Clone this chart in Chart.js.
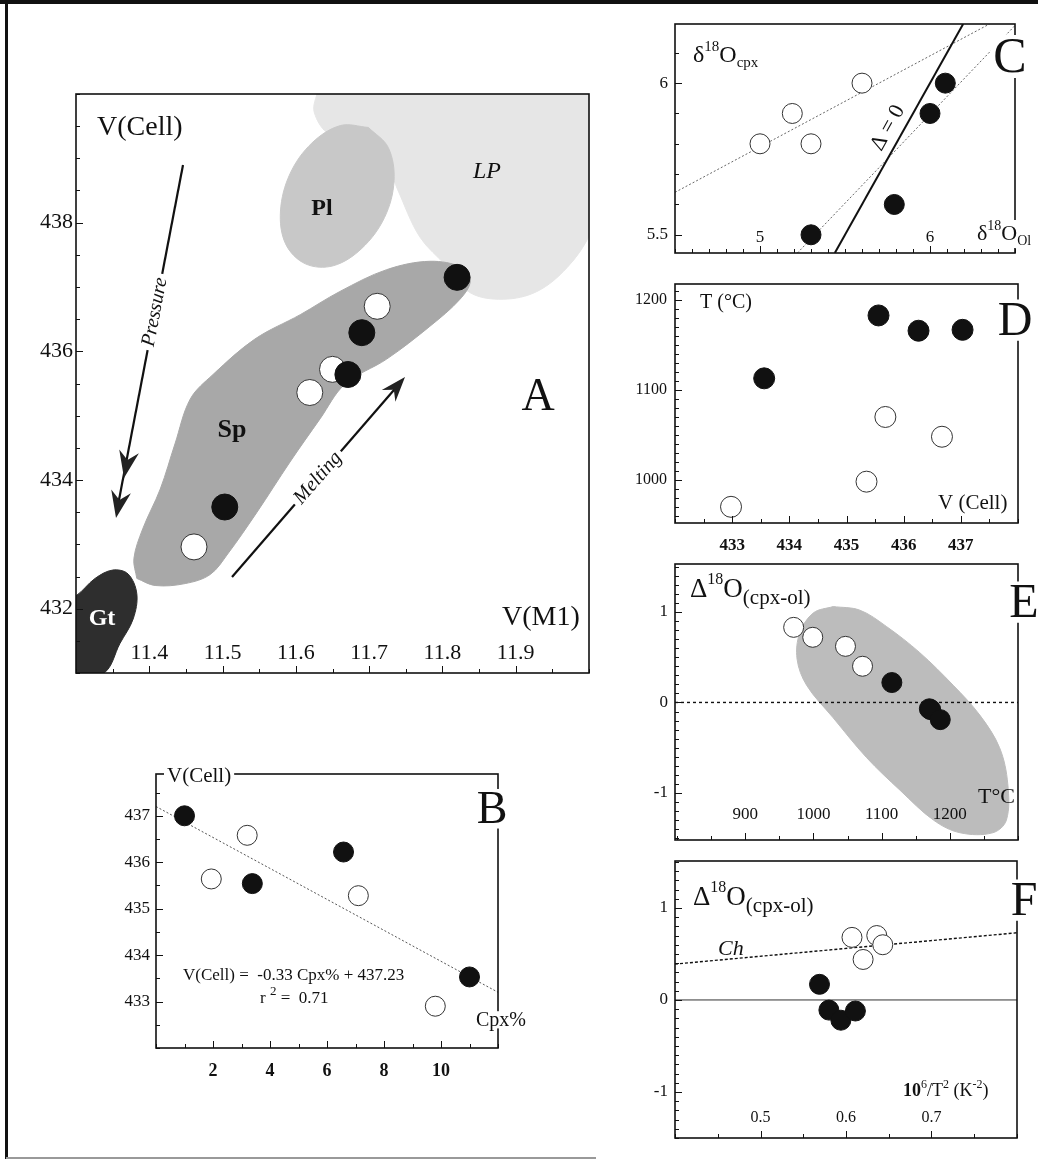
<!DOCTYPE html>
<html>
<head>
<meta charset="utf-8">
<script src="https://cdn.jsdelivr.net/npm/chart.js@4.4.1/dist/chart.umd.min.js"></script>
<style>
  html, body { margin: 0; padding: 0; background: #fff; }
  #page { position: relative; width: 1038px; height: 1161px; overflow: hidden; background: #fff; }
  #page canvas { position: absolute; }
  .rule { position: absolute; background: #111; }
</style>
</head>
<body>
<div id="page">
  <div class="rule" style="left:0;top:0;width:1038px;height:4px"></div>
  <div class="rule" style="left:5px;top:0;width:3px;height:1159px"></div>
  <div class="rule" style="left:6px;top:1157px;width:590px;height:2px;background:#999"></div>
  <canvas id="cA"></canvas>
  <canvas id="cB"></canvas>
  <canvas id="cC"></canvas>
  <canvas id="cD"></canvas>
  <canvas id="cE"></canvas>
  <canvas id="cF"></canvas>
</div>
<script>
const SERIF = '"Liberation Serif", "DejaVu Serif", serif';

// ---- A: V(Cell) against V(M1)
const aOpenM1 = [11.461, 11.619, 11.650, 11.711];
const aOpenCell = [432.96, 435.36, 435.72, 436.70];
const aFillM1 = [11.503, 11.671, 11.690, 11.820];
const aFillCell = [433.58, 435.64, 436.29, 437.15];
const aXLabels = [11.4, 11.5, 11.6, 11.7, 11.8, 11.9];
const aYLabels = [432, 434, 436, 438];
// fields in A (outlines)
const lpM1 = [11.630, 11.625, 11.647, 11.715, 11.739, 11.769, 11.806, 11.838, 11.883, 11.929, 11.970, 12.001, 12.015, 12.015];
const lpCell = [440.06, 439.72, 439.36, 439.13, 438.51, 437.78, 437.32, 436.91, 436.81, 436.93, 437.30, 437.81, 438.36, 440.06];
const plM1 = [11.699, 11.726, 11.734, 11.721, 11.690, 11.651, 11.613, 11.586, 11.579, 11.592, 11.622, 11.661];
const plCell = [439.48, 439.17, 438.65, 438.08, 437.60, 437.33, 437.36, 437.67, 438.18, 438.76, 439.24, 439.51];
const spM1 = [11.383, 11.408, 11.449, 11.483, 11.507, 11.547, 11.592, 11.633, 11.667, 11.724, 11.783, 11.824, 11.838,
              11.827, 11.783, 11.724, 11.660, 11.606, 11.544, 11.487, 11.456, 11.435, 11.415, 11.391, 11.379];
const spCell = [432.47, 432.36, 432.39, 432.53, 432.85, 433.50, 434.28, 434.95, 435.49, 435.88, 436.39, 436.81, 437.09,
                437.30, 437.40, 437.27, 436.93, 436.57, 436.19, 435.64, 435.26, 434.56, 433.86, 433.24, 432.78];
const gtM1 = [11.29, 11.300, 11.326, 11.350, 11.371, 11.383, 11.378, 11.360, 11.338, 11.29];
const gtCell = [432.20, 432.20, 432.47, 432.60, 432.54, 432.23, 431.84, 431.46, 431.00, 430.95];

// ---- B: V(Cell) against Cpx%
const bFillCpx = [1.0, 3.38, 6.58, 11.0];
const bFillCell = [437.0, 435.54, 436.22, 433.53];
const bOpenCpx = [1.94, 3.2, 7.1, 9.8];
const bOpenCell = [435.64, 436.58, 435.28, 432.9];
const bFitCpx = [0, 12];
const bFitCell = [437.2, 433.2];
const bXLabels = [2, 4, 6, 8, 10];
const bYLabels = [433, 434, 435, 436, 437];

// ---- C: d18O cpx against d18O ol
const cOpenOl = [5.0, 5.19, 5.3, 5.6];
const cOpenCpx = [5.8, 5.9, 5.8, 6.0];
const cFillOl = [5.3, 5.79, 6.0, 6.09];
const cFillCpx = [5.5, 5.6, 5.9, 6.0];
const cOpenFitOl = [4.5, 6.35];
const cOpenFitCpx = [5.64, 6.195];
const cFillFitOl = [5.22, 6.5];
const cFillFitCpx = [5.44, 6.19];
const cEqualOl = [5.44, 6.195];
const cEqualCpx = [5.44, 6.195];
const cXLabels = [5, 6];
const cYLabels = [5.5, 6];

// ---- D: T against V(Cell)
const dFillCell = [433.56, 435.56, 436.26, 437.03];
const dFillT = [1113, 1183, 1166, 1167];
const dOpenCell = [432.98, 435.35, 435.68, 436.67];
const dOpenT = [970, 998, 1070, 1048];
const dXLabels = [433, 434, 435, 436, 437];
const dYLabels = [1000, 1100, 1200];

// ---- E: D18O(cpx-ol) against T
const eOpenT = [971, 999, 1047, 1072];
const eOpenD = [0.83, 0.72, 0.62, 0.40];
const eFillT = [1115, 1170, 1172, 1186];
const eFillD = [0.22, -0.07, -0.08, -0.19];
const eFieldT = [1029, 1068, 1107, 1156, 1205, 1244, 1273, 1285, 1283, 1263, 1215, 1176, 1127, 1078, 1029, 990, 976, 980, 1000];
const eFieldD = [1.06, 1.02, 0.84, 0.55, 0.19, -0.14, -0.50, -0.90, -1.30, -1.44, -1.44, -1.30, -0.97, -0.61, -0.17, 0.19, 0.48, 0.77, 0.99];
const eZeroT = [797, 1300];
const eZeroD = [0, 0];
const eXLabels = [900, 1000, 1100, 1200];
const eYLabels = [-1, 0, 1];

// ---- F: D18O(cpx-ol) against 10^6/T^2
const fOpenX = [0.607, 0.636, 0.643, 0.620];
const fOpenD = [0.68, 0.70, 0.60, 0.44];
const fFillX = [0.569, 0.580, 0.594, 0.611];
const fFillD = [0.17, -0.11, -0.22, -0.12];
const fChX = [0.4, 0.8];
const fChD = [0.39, 0.73];
const fZeroX = [0.4, 0.8];
const fZeroD = [0, 0];
const fXLabels = [0.5, 0.6, 0.7];
const fYLabels = [-1, 0, 1];

// ---------- helpers
const pts = (xs, ys) => xs.map((x, i) => ({ x, y: ys[i] }));
const F = (size, style) => (style || '') + ' ' + size + 'px ' + SERIF;

function lab(v, list) {
  for (const m of list) if (Math.abs(v - m) < 1e-6) return String(m);
  return '';
}

// inside = labels drawn inside the frame (mirror stops Chart.js clipping them to the axis box)
function axis(min, max, step, labels, size, pad, inside, weight) {
  return {
    type: 'linear', min, max,
    border: { display: false },
    grid: { display: false, drawTicks: false },
    ticks: {
      z: 1,
      autoSkip: false, maxRotation: 0, minRotation: 0, padding: pad, mirror: !!inside,
      color: '#111', font: { family: SERIF, size, weight: weight || 'normal' },
      callback: v => lab(v, labels)
    },
    afterBuildTicks: s => {
      const out = [];
      const k0 = Math.ceil(s.min / step - 1e-6), k1 = Math.floor(s.max / step + 1e-6);
      for (let k = k0; k <= k1; k++) out.push({ value: +(k * step).toFixed(6) });
      s.ticks = out;
    }
  };
}

function dots(xs, ys, filled, r) {
  return {
    data: pts(xs, ys), showLine: false, pointRadius: r, pointStyle: 'circle',
    pointBackgroundColor: filled ? '#111' : '#fff', pointBorderColor: filled ? '#111' : '#333',
    pointBorderWidth: 1, order: filled ? 0 : 1
  };
}
function field(xs, ys, color, order) {
  const d = pts(xs, ys);
  d.push(d[0]);
  return {
    data: d, showLine: true, fill: 'shape', backgroundColor: color, borderColor: color,
    borderWidth: 1, pointRadius: 0, tension: 0.35, order
  };
}
function trace(xs, ys, color, width, dash) {
  return {
    data: pts(xs, ys), showLine: true, fill: false, borderColor: color, borderWidth: width,
    borderDash: dash, pointRadius: 0, tension: 0, order: 3
  };
}

function frameAndTicks(chart) {
  const { ctx, chartArea: a, scales: { x, y } } = chart;
  ctx.save();
  ctx.strokeStyle = '#111';
  ctx.lineWidth = 1;
  ctx.beginPath();
  for (const t of x.ticks) {
    const p = Math.round(x.getPixelForValue(t.value)) + 0.5, l = t.label ? 7 : 4;
    ctx.moveTo(p, a.bottom); ctx.lineTo(p, a.bottom - l);
  }
  for (const t of y.ticks) {
    const p = Math.round(y.getPixelForValue(t.value)) + 0.5, l = t.label ? 7 : 4;
    ctx.moveTo(a.left, p); ctx.lineTo(a.left + l, p);
  }
  ctx.stroke();
  ctx.lineWidth = 1.6;
  ctx.strokeRect(a.left, a.top, a.right - a.left, a.bottom - a.top);
  ctx.restore();
}

function rich(ctx, x, y, parts, bg) {
  let w = 0;
  for (const p of parts) { ctx.font = p.f; w += ctx.measureText(p.t).width; }
  if (bg) { ctx.fillStyle = '#fff'; ctx.fillRect(x - 3, y - bg, w + 6, bg + 8); }
  ctx.fillStyle = '#111';
  let cx = x;
  for (const p of parts) {
    ctx.font = p.f;
    ctx.fillText(p.t, cx, y + (p.dy || 0));
    cx += ctx.measureText(p.t).width;
  }
}
function text(ctx, t, x, y, font, align, color) {
  ctx.font = font; ctx.textAlign = align || 'left'; ctx.fillStyle = color || '#111';
  ctx.fillText(t, x, y);
  ctx.textAlign = 'left';
}
function boxText(ctx, t, x, y, size, align, style) {
  ctx.font = F(size, style);
  const w = ctx.measureText(t).width;
  const x0 = align === 'center' ? x - w / 2 : x;
  ctx.fillStyle = '#fff';
  ctx.fillRect(x0 - 3, y - size * 0.74, w + 6, size * 0.86);
  text(ctx, t, x0, y, F(size, style), 'left');
}
function rotText(ctx, t, x, y, ang, font, bg) {
  ctx.save();
  ctx.translate(x, y); ctx.rotate(ang); ctx.font = font;
  const w = ctx.measureText(t).width;
  if (bg) { ctx.fillStyle = '#fff'; ctx.fillRect(-w / 2 - 4, -10, w + 8, 20); }
  ctx.fillStyle = '#111'; ctx.textAlign = 'center'; ctx.textBaseline = 'middle';
  ctx.fillText(t, 0, 0);
  ctx.restore();
}
function head(ctx, x, y, ang, len, half) {
  ctx.save();
  ctx.translate(x, y); ctx.rotate(ang);
  ctx.fillStyle = '#222';
  ctx.beginPath();
  ctx.moveTo(0, 0); ctx.lineTo(-len, half); ctx.lineTo(-len * 0.68, 0); ctx.lineTo(-len, -half);
  ctx.closePath(); ctx.fill();
  ctx.restore();
}

function panel(id, box, frame, xs, ys, datasets, extra) {
  const cv = document.getElementById(id);
  cv.width = box.W; cv.height = box.H;
  cv.style.left = box.L + 'px'; cv.style.top = box.T + 'px';
  xs.afterFit = s => { s.height = box.T + box.H - frame.b; s.paddingLeft = 0; s.paddingRight = 0; };
  ys.afterFit = s => { s.width = frame.l - box.L; s.paddingTop = 0; s.paddingBottom = 0; };
  const P = (x, y) => [x - box.L, y - box.T];
  return new Chart(cv, {
    type: 'line',
    data: { datasets },
    options: {
      responsive: false, animation: false, events: [],
      layout: { autoPadding: false, padding: { left: 0, bottom: 0, top: frame.t - box.T, right: box.L + box.W - frame.r } },
      plugins: { legend: { display: false }, tooltip: { enabled: false } },
      scales: { x: xs, y: ys }
    },
    plugins: [{
      id: 'deco' + id,
      afterDraw(chart) {
        frameAndTicks(chart);
        const ctx = chart.ctx;
        ctx.save();
        ctx.textBaseline = 'alphabetic';
        if (extra) extra(ctx, P);
        ctx.restore();
      }
    }]
  });
}

// ---------- A
panel('cA', { L: 10, T: 60, W: 600, H: 630 }, { l: 76, t: 94, r: 589, b: 673 },
  axis(11.3, 12.0, 0.05, aXLabels, 22, 7, true),
  axis(431, 440, 0.5, aYLabels, 22, 3),
  [
    dots(aFillM1, aFillCell, true, 13),
    dots(aOpenM1, aOpenCell, false, 13),
    field(gtM1, gtCell, '#2e2e2e', 6),
    field(spM1, spCell, '#a8a8a8', 7),
    field(plM1, plCell, '#c8c8c8', 8),
    field(lpM1, lpCell, '#e6e6e6', 9)
  ],
  (ctx, P) => {
    // Pressure arrow
    ctx.strokeStyle = '#111'; ctx.lineWidth = 2.2;
    ctx.beginPath(); ctx.moveTo(...P(183, 165)); ctx.lineTo(...P(118, 505)); ctx.stroke();
    const pa = Math.atan2(345, -66);
    head(ctx, ...P(124, 478), pa, 27, 10);
    head(ctx, ...P(116, 518), pa, 27, 10);
    rotText(ctx, 'Pressure', ...P(155, 312), Math.atan2(-345, 66), F(20, 'italic'), true);
    // Melting arrow
    ctx.beginPath(); ctx.moveTo(...P(232, 577)); ctx.lineTo(...P(400, 383)); ctx.stroke();
    head(ctx, ...P(405, 377), Math.atan2(-198, 172), 25, 9);
    rotText(ctx, 'Melting', ...P(318, 478), Math.atan2(-198, 172), F(20, 'italic'), true);
    // labels
    text(ctx, 'V(Cell)', ...P(97, 135), F(28));
    text(ctx, 'Pl', ...P(322, 215), F(24, 'bold'), 'center');
    text(ctx, 'LP', ...P(487, 178), F(24, 'italic'), 'center');
    text(ctx, 'Sp', ...P(232, 437), F(26, 'bold'), 'center');
    text(ctx, 'Gt', ...P(102, 625), F(24, 'bold'), 'center', '#fff');
    text(ctx, 'A', ...P(538, 410), F(46), 'center');
    text(ctx, 'V(M1)', ...P(502, 625), F(28));
  });

// ---------- B
panel('cB', { L: 90, T: 740, W: 440, H: 360 }, { l: 156, t: 774, r: 498, b: 1048 },
  axis(0, 12, 1, bXLabels, 18, 13, false, 'bold'),
  axis(432, 437.9, 0.5, bYLabels, 17, 6),
  [
    dots(bFillCpx, bFillCell, true, 10),
    dots(bOpenCpx, bOpenCell, false, 10),
    trace(bFitCpx, bFitCell, '#555', 1, [2, 2])
  ],
  (ctx, P) => {
    boxText(ctx, 'V(Cell)', ...P(167, 782), 21);
    text(ctx, 'V(Cell) =  -0.33 Cpx% + 437.23', ...P(183, 980), F(17));
    rich(ctx, ...P(260, 1003), [
      { t: 'r ', f: F(17) }, { t: '2', f: F(13), dy: -8 }, { t: ' =  0.71', f: F(17) }
    ]);
    boxText(ctx, 'B', ...P(492, 823), 46, 'center');
    boxText(ctx, 'Cpx%', ...P(476, 1026), 20);
  });

// ---------- C
panel('cC', { L: 610, T: 0, W: 428, H: 275 }, { l: 675, t: 24, r: 1015, b: 253 },
  axis(4.5, 6.5, 0.1, cXLabels, 17, 5, true),
  axis(5.44, 6.195, 0.1, cYLabels, 17, 7),
  [
    dots(cFillOl, cFillCpx, true, 10),
    dots(cOpenOl, cOpenCpx, false, 10),
    trace(cEqualOl, cEqualCpx, '#111', 2, []),
    trace(cOpenFitOl, cOpenFitCpx, '#666', 1, [2, 2]),
    trace(cFillFitOl, cFillFitCpx, '#666', 1, [2, 2])
  ],
  (ctx, P) => {
    rich(ctx, ...P(693, 62), [
      { t: 'δ', f: F(24) }, { t: '18', f: F(15), dy: -11 }, { t: 'O', f: F(24) }, { t: 'cpx', f: F(15), dy: 5 }
    ]);
    boxText(ctx, 'C', ...P(1010, 72), 50, 'center');
    rich(ctx, ...P(977, 240), [
      { t: 'δ', f: F(22) }, { t: '18', f: F(14), dy: -10 }, { t: 'O', f: F(22) }, { t: 'Ol', f: F(14), dy: 5 }
    ], 20);
    rotText(ctx, 'Δ = 0', ...P(888, 128), Math.atan2(-229, 127), F(22), false);
  });

// ---------- D
panel('cD', { L: 600, T: 262, W: 438, H: 300 }, { l: 675, t: 284, r: 1018, b: 523 },
  axis(432, 438, 0.5, dXLabels, 17, 12, false, 'bold'),
  axis(952, 1218, 10, dYLabels, 16, 8),
  [
    dots(dFillCell, dFillT, true, 10.5),
    dots(dOpenCell, dOpenT, false, 10.5)
  ],
  (ctx, P) => {
    text(ctx, 'T (°C)', ...P(700, 308), F(20));
    boxText(ctx, 'D', ...P(1015, 335), 48, 'center');
    text(ctx, 'V (Cell)', ...P(938, 509), F(21));
  });

// ---------- E
panel('cE', { L: 610, T: 540, W: 428, H: 320 }, { l: 675, t: 564, r: 1018, b: 840 },
  axis(797, 1300, 50, eXLabels, 17, 15, true),
  axis(-1.52, 1.53, 0.1, eYLabels, 17, 7),
  [
    dots(eFillT, eFillD, true, 10),
    dots(eOpenT, eOpenD, false, 10),
    trace(eZeroT, eZeroD, '#111', 1.4, [3, 3]),
    field(eFieldT, eFieldD, '#bcbcbc', 9)
  ],
  (ctx, P) => {
    rich(ctx, ...P(690, 597), [
      { t: 'Δ', f: F(27) }, { t: '18', f: F(16), dy: -13 }, { t: 'O', f: F(27) }, { t: '(cpx-ol)', f: F(21), dy: 7 }
    ]);
    boxText(ctx, 'E', ...P(1024, 617), 48, 'center');
    text(ctx, 'T°C', ...P(978, 803), F(22));
  });

// ---------- F
panel('cF', { L: 610, T: 838, W: 428, H: 323 }, { l: 675, t: 861, r: 1017, b: 1138 },
  axis(0.4, 0.8, 0.05, fXLabels, 16, 11, true),
  axis(-1.5, 1.51, 0.1, fYLabels, 17, 7),
  [
    dots(fFillX, fFillD, true, 10),
    dots(fOpenX, fOpenD, false, 10),
    trace(fChX, fChD, '#111', 1.4, [3, 2]),
    trace(fZeroX, fZeroD, '#333', 1, [])
  ],
  (ctx, P) => {
    rich(ctx, ...P(693, 905), [
      { t: 'Δ', f: F(27) }, { t: '18', f: F(16), dy: -13 }, { t: 'O', f: F(27) }, { t: '(cpx-ol)', f: F(21), dy: 7 }
    ]);
    boxText(ctx, 'F', ...P(1024, 915), 48, 'center');
    text(ctx, 'Ch', ...P(718, 955), F(22, 'italic'));
    rich(ctx, ...P(903, 1096), [
      { t: '10', f: F(18, 'bold') }, { t: '6', f: F(12), dy: -8 }, { t: '/T', f: F(18) }, { t: '2', f: F(12), dy: -8 },
      { t: ' (K', f: F(18) }, { t: '-2', f: F(12), dy: -8 }, { t: ')', f: F(18) }
    ]);
  });
</script>
</body>
</html>
